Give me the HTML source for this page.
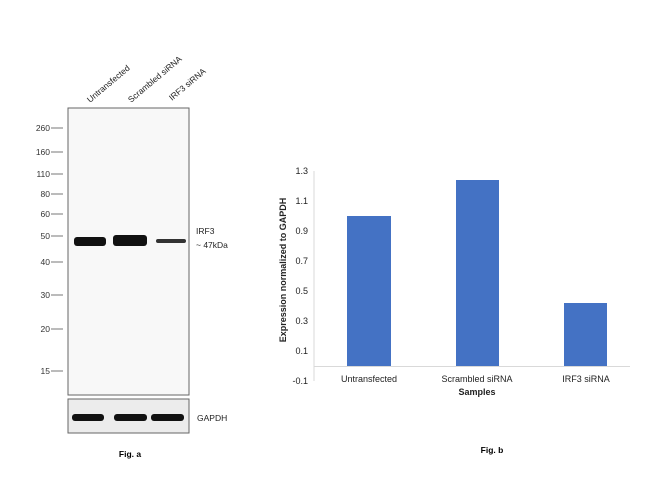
<!DOCTYPE html>
<html><head><style>
body{margin:0;width:650px;height:499px;background:#fff;font-family:"Liberation Sans",Arial,sans-serif;overflow:hidden}
</style></head><body>
<svg width="650" height="499" xmlns="http://www.w3.org/2000/svg" font-family="Liberation Sans, Arial, sans-serif">
<!-- Blot -->
<rect x="68" y="108" width="121" height="287" fill="#f8f8f8" stroke="#666" stroke-width="1"/>
<rect x="68" y="399" width="121" height="34" fill="#ececec" stroke="#666" stroke-width="1"/>
<g font-size="8.5" fill="#333" text-anchor="end">
<text x="50" y="131">260</text><text x="50" y="155">160</text><text x="50" y="177">110</text>
<text x="50" y="197">80</text><text x="50" y="217">60</text><text x="50" y="239">50</text>
<text x="50" y="265">40</text><text x="50" y="298">30</text><text x="50" y="332">20</text><text x="50" y="374">15</text>
</g>
<g stroke="#555" stroke-width="0.8">
<line x1="51" y1="128" x2="63" y2="128"/><line x1="51" y1="152" x2="63" y2="152"/><line x1="51" y1="174" x2="63" y2="174"/>
<line x1="51" y1="194" x2="63" y2="194"/><line x1="51" y1="214" x2="63" y2="214"/><line x1="51" y1="236" x2="63" y2="236"/>
<line x1="51" y1="262" x2="63" y2="262"/><line x1="51" y1="295" x2="63" y2="295"/><line x1="51" y1="329" x2="63" y2="329"/><line x1="51" y1="371" x2="63" y2="371"/>
</g>
<rect x="74" y="237" width="32" height="9" rx="3" fill="#111"/>
<rect x="113" y="235" width="34" height="11" rx="3" fill="#111"/>
<rect x="156" y="239" width="30" height="4" rx="2" fill="#333"/>
<rect x="72" y="414" width="32" height="7" rx="3" fill="#111"/>
<rect x="114" y="414" width="33" height="7" rx="3" fill="#111"/>
<rect x="151" y="414" width="33" height="7" rx="3" fill="#111"/>
<g font-size="8.5" fill="#222">
<text transform="translate(90,103) rotate(-40)">Untransfected</text>
<text transform="translate(131,103) rotate(-40)">Scrambled siRNA</text>
<text transform="translate(172,101) rotate(-40)">IRF3 siRNA</text>
<text x="196" y="234">IRF3</text><text x="196" y="248">~ 47kDa</text>
<text x="197" y="421">GAPDH</text>
</g>
<text x="130" y="457" font-size="8.5" font-weight="bold" text-anchor="middle">Fig. a</text>
<!-- Chart -->
<g fill="#4472c4">
<rect x="347" y="216" width="44" height="150"/>
<rect x="456" y="180" width="43" height="186"/>
<rect x="564" y="303" width="43" height="63"/>
</g>
<line x1="314" y1="171" x2="314" y2="381" stroke="#d9d9d9"/>
<line x1="314" y1="366.5" x2="630" y2="366.5" stroke="#d9d9d9"/>
<g font-size="9" fill="#222" text-anchor="end">
<text x="308" y="174">1.3</text><text x="308" y="204">1.1</text><text x="308" y="234">0.9</text>
<text x="308" y="264">0.7</text><text x="308" y="294">0.5</text><text x="308" y="324">0.3</text>
<text x="308" y="354">0.1</text><text x="308" y="384">-0.1</text>
</g>
<g font-size="9" fill="#222" text-anchor="middle">
<text x="369" y="382">Untransfected</text><text x="477" y="382">Scrambled siRNA</text><text x="586" y="382">IRF3 siRNA</text>
<text x="477" y="395" font-weight="bold">Samples</text>
<text transform="translate(286,270) rotate(-90)" font-weight="bold">Expression normalized to GAPDH</text>
</g>
<text x="492" y="453" font-size="8.5" font-weight="bold" text-anchor="middle">Fig. b</text>
</svg>
</body></html>
